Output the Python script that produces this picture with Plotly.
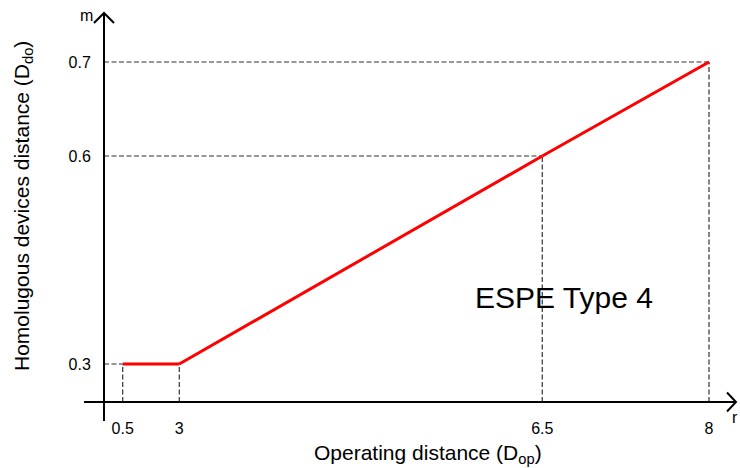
import plotly.graph_objects as go

# ---- data (read from the schematic) ----
op_distance = [0.5, 3, 6.5, 8]            # Operating distance (D_op)
homolog_distance = [0.3, 0.3, 0.6, 0.7]   # Homologous devices distance (D_do)
x_tick_labels = ["0.5", "3", "6.5", "8"]
y_tick_labels = ["0.3", "0.3", "0.6", "0.7"]
series_name = "ESPE Type 4"

# ---- schematic (piecewise) scales: overlaid linear axes ----
W, H = 740, 468
def px(x):
    return x / W
def py(y):
    return 1 - y / H

X_DOMAIN = [px(104), px(736)]
Y_DOMAIN = [py(402), py(13)]
RANGES = {
    "x": [-0.326, 27.589],
    "x2": [2.274, 8.368],
    "x3": [2.556, 8.243],
    "y": [0.2452, 0.8063],
    "y2": [0.3383, 0.7521],
}
segment_axes = [("x", "y"), ("x2", "y"), ("x3", "y2")]
point_axes = [("x", "y"), ("x", "y"), ("x2", "y"), ("x3", "y2")]

FONT = "Liberation Sans, Arial, Helvetica, sans-serif"
GUIDE = dict(color="#333333", width=1.2, dash="5px,2.5px")

fig = go.Figure()

# dashed guide lines
seen_y = set()
for i, (xa, ya) in enumerate(point_axes):
    xv, yv = op_distance[i], homolog_distance[i]
    fig.add_trace(go.Scatter(x=[xv, xv], y=[RANGES[ya][0], yv], xaxis=xa, yaxis=ya,
                             mode="lines", line=GUIDE, hoverinfo="skip", showlegend=False))
    if yv not in seen_y:
        seen_y.add(yv)
        fig.add_trace(go.Scatter(x=[RANGES[xa][0], xv], y=[yv, yv], xaxis=xa, yaxis=ya,
                                 mode="lines", line=GUIDE, hoverinfo="skip", showlegend=False))

# red characteristic line, one segment per schematic scale
for i, (xa, ya) in enumerate(segment_axes):
    fig.add_trace(go.Scatter(x=op_distance[i:i + 2], y=homolog_distance[i:i + 2],
                             xaxis=xa, yaxis=ya, mode="lines", name=series_name,
                             line=dict(color="#ff0000", width=3), showlegend=False))

# ticks per axis
ticks = {k: ([], []) for k in RANGES}
for i, (xa, ya) in enumerate(point_axes):
    if op_distance[i] not in ticks[xa][0]:
        ticks[xa][0].append(op_distance[i]); ticks[xa][1].append(x_tick_labels[i])
    if homolog_distance[i] not in ticks[ya][0]:
        ticks[ya][0].append(homolog_distance[i]); ticks[ya][1].append(y_tick_labels[i])

common = dict(showgrid=False, zeroline=False, showline=False, ticks="outside",
              tickcolor="rgba(0,0,0,0)", tickfont=dict(size=16, color="black", family=FONT),
              fixedrange=True)
layout_axes = {}
for k in ["x", "x2", "x3"]:
    name = "xaxis" if k == "x" else "xaxis" + k[1:]
    d = dict(common, domain=X_DOMAIN, range=RANGES[k], anchor="y", side="bottom",
             ticklen=12, tickvals=ticks[k][0], ticktext=ticks[k][1])
    if k != "x":
        d["overlaying"] = "x"
    layout_axes[name] = d
for k in ["y", "y2"]:
    name = "yaxis" if k == "y" else "yaxis" + k[1:]
    d = dict(common, domain=Y_DOMAIN, range=RANGES[k], anchor="x", side="left",
             ticklen=9, tickvals=ticks[k][0], ticktext=ticks[k][1])
    if k != "y":
        d["overlaying"] = "y"
    layout_axes[name] = d

AX = dict(color="black", width=2)
shapes = [
    dict(type="line", xref="paper", yref="paper", x0=px(104), x1=px(104), y0=py(421), y1=py(13), line=AX),
    dict(type="line", xref="paper", yref="paper", x0=px(84), x1=px(736), y0=py(402), y1=py(402), line=AX),
    dict(type="path", xref="paper", yref="paper",
         path=f"M {px(94)} {py(23)} L {px(104)} {py(13)} L {px(114)} {py(23)}", line=AX),
    dict(type="path", xref="paper", yref="paper",
         path=f"M {px(727)} {py(392.5)} L {px(736)} {py(402)} L {px(727)} {py(411.5)}", line=AX),
]

def label(text, x, y, size, **kw):
    return dict(text=text, x=px(x), y=py(y), xref="paper", yref="paper", showarrow=False,
                xanchor="center", yanchor="middle",
                font=dict(size=size, family=FONT, color="black"), **kw)

annotations = [
    label("Operating distance (D<sub>op</sub>)", 428, 454, 21),
    label("Homolugous devices distance (D<sub>do</sub>)", 23, 206, 21, textangle=-90),
    label(series_name, 564, 297, 30),
    label("m", 86, 16, 16),
    label("r", 735, 417, 16),
]

fig.update_layout(width=W, height=H, margin=dict(l=0, r=0, t=0, b=0),
                  paper_bgcolor="white", plot_bgcolor="rgba(0,0,0,0)",
                  font=dict(family=FONT, color="black"),
                  shapes=shapes, annotations=annotations, **layout_axes)

fig.write_html("out.html", config={"displayModeBar": False},
               post_script="document.body.style.margin='0';")
